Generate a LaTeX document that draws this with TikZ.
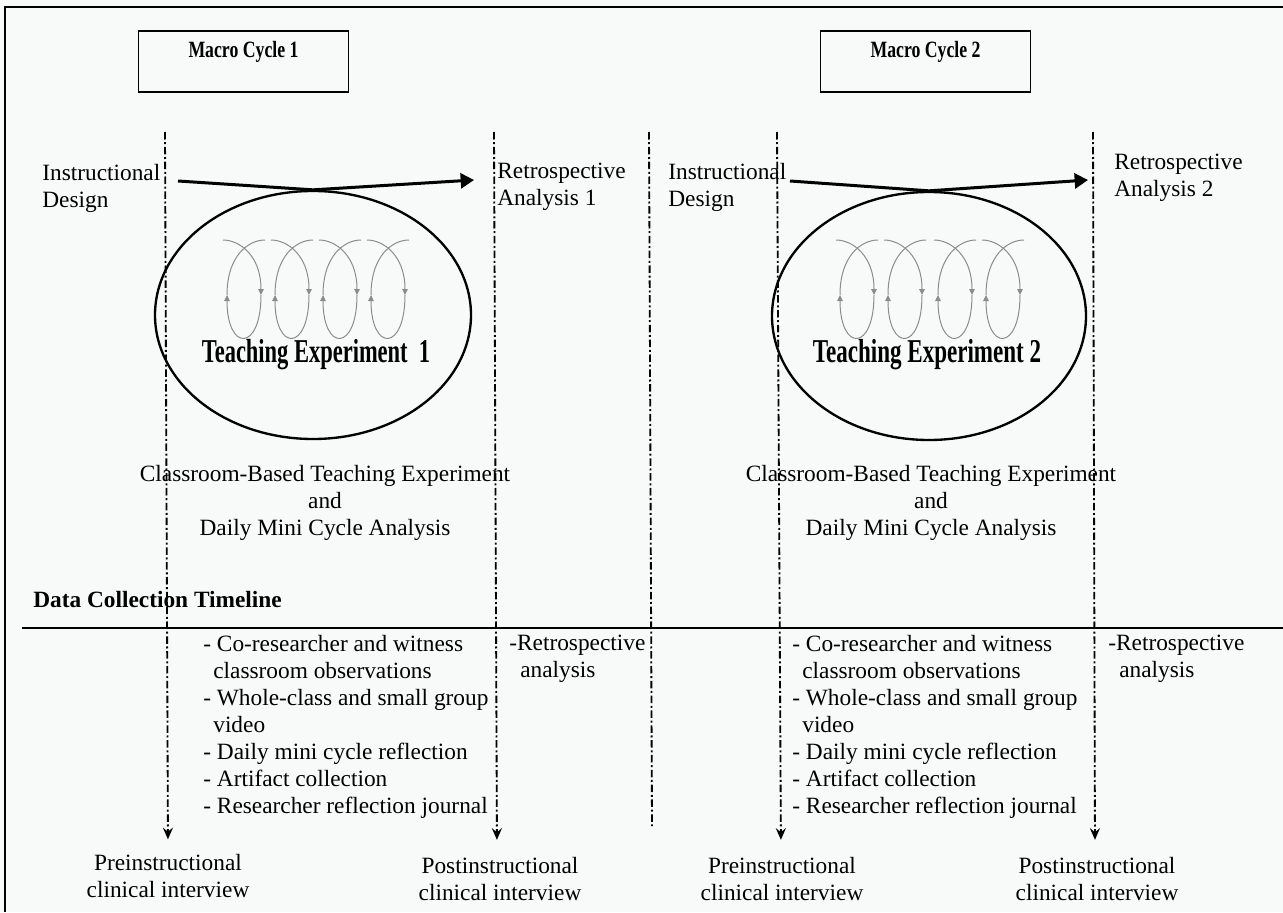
\documentclass[tikz,border=0pt]{standalone}
\usepackage{fontspec}
\setmainfont{Liberation Serif}
\usetikzlibrary{shapes.geometric,arrows.meta}
\definecolor{bgc}{RGB}{248,249,249}
\definecolor{loopc}{RGB}{140,140,140}
\newcommand\miniloop[1]{%
  \begin{scope}[shift={(#1,0)}, loopline]
    \draw[-{Triangle[length=3.6pt,width=3.4pt]}] (-21,240) .. controls (-5,240) and (17,255) .. (17,295);
    \draw[-{Triangle[length=3.6pt,width=3.4pt]}] (17,295) .. controls (17,352) and (-17,352) .. (-17,295);
    \draw (-17,295) .. controls (-17,255) and (5,240) .. (21,240);
  \end{scope}}
\begin{document}
\begin{tikzpicture}[x=0.6pt,y=-0.6pt,
  txt/.style={font=\fontsize{14}{16.2}\selectfont, inner sep=0pt, align=left},
  ctxt/.style={font=\fontsize{14}{16.2}\selectfont, inner sep=0pt, align=center},
  ttl/.style={font=\fontsize{14}{16}\selectfont\bfseries, inner sep=0pt},
  macrobox/.style={draw, line width=0.9pt, minimum width=126pt, minimum height=36.6pt, inner sep=0pt},
  timeline/.style={line width=1.1pt, dash pattern=on 4.5pt off 1.6pt on 1.2pt off 1.6pt},
  tlarrow/.style={timeline, -{Stealth[length=7pt,width=6pt,inset=2.5pt]}, shorten >=9pt},
  bigarrow/.style={line width=1.8pt, line join=miter, -{Triangle[length=8pt,width=9pt]}},
  cyc/.style={draw, ellipse, line width=1.4pt, inner sep=0pt},
  loopline/.style={draw=loopc, line width=0.6pt},
  teach/.style={inner sep=0pt, font=\fontsize{20}{22}\selectfont\bfseries},
  mtitle/.style={inner sep=0pt, font=\fontsize{14}{16}\selectfont\bfseries}
]
\fill[bgc] (0,0) rectangle (1283,912);
\useasboundingbox (0,0) rectangle (1283,912);
% frame
\draw[line width=1.1pt] (5,912) -- (5,7) -- (1283,7);

% macro boxes
\node[macrobox] (mc1) at (243.5,61.5) {};
\node[mtitle] (mc1t) at (243.5,52) {\resizebox{66pt}{\height}{Macro Cycle 1}};
\node[macrobox] (mc2) at (925.5,61.5) {};
\node[mtitle] (mc2t) at (925.5,52) {\resizebox{66pt}{\height}{Macro Cycle 2}};

% top labels
\node[txt, anchor=north west] (id1) at (42,163.5) {Instructional\\Design};
\node[txt, anchor=north west] (ra1) at (497,162.5) {Retrospective\\Analysis 1};
\node[txt, anchor=north west] (id2) at (668,162.5) {Instructional\\Design};
\node[txt, anchor=north west] (ra2) at (1114,153.5) {Retrospective\\Analysis 2};

% ellipses
\node[cyc, minimum width=189.6pt, minimum height=148.8pt] (ell1) at (313,315) {};
\node[cyc, minimum width=188.4pt, minimum height=148.8pt] (ell2) at (929,316) {};

% mini cycles
\miniloop{244}\miniloop{292}\miniloop{340}\miniloop{388}
\miniloop{857}\miniloop{905}\miniloop{955}\miniloop{1003}

% teaching experiment titles
\node[teach] (te1) at (316,355) {\resizebox{137pt}{\height}{Teaching Experiment\ \ 1}};
\node[teach] (te2) at (927,355) {\resizebox{137pt}{\height}{Teaching Experiment 2}};

% big arrows
\coordinate (a1s) at (178,181);
\coordinate (a2s) at (790,181);
\coordinate (a1e) at (474,180);
\coordinate (a2e) at (1088,180);
\draw[bigarrow] (a1s) -- (ell1.north) -- (a1e);
\draw[bigarrow] (a2s) -- (ell2.north) -- (a2e);

% classroom text
\node[ctxt, anchor=north] (cb1) at (325,464.5) {Classroom-Based Teaching Experiment\\and\\Daily Mini Cycle Analysis};
\node[ctxt, anchor=north] (cb2) at (931,464.5) {Classroom-Based Teaching Experiment\\and\\Daily Mini Cycle Analysis};

% timeline
\node[ttl, anchor=west] (dct) at (33,600) {Data Collection Timeline};
\coordinate (hl1) at (22,628);
\coordinate (hl2) at (1283,628);
\draw[line width=1.4pt] (hl1) -- (hl2);

% data lists
\node[txt, anchor=north west] (dl1) at (203,634.5) {- Co-researcher and witness\\\hspace*{6pt}classroom observations\\- Whole-class and small group\\\hspace*{6pt}video\\- Daily mini cycle reflection\\- Artifact collection\\- Researcher reflection journal};
\node[txt, anchor=north west] (rl1) at (509,634.5) {-Retrospective\\\hspace*{6.6pt}analysis};
\node[txt, anchor=north west] (dl2) at (792,634.5) {- Co-researcher and witness\\\hspace*{6pt}classroom observations\\- Whole-class and small group\\\hspace*{6pt}video\\- Daily mini cycle reflection\\- Artifact collection\\- Researcher reflection journal};
\node[txt, anchor=north west] (rl2) at (1108,634.5) {-Retrospective\\\hspace*{6.6pt}analysis};

% interview labels
\node[ctxt, anchor=north] (pre1) at (168,853.5) {Preinstructional\\clinical interview};
\node[ctxt, anchor=north] (post1) at (500,856.5) {Postinstructional\\clinical interview};
\node[ctxt, anchor=north] (pre2) at (782,856.5) {Preinstructional\\clinical interview};
\node[ctxt, anchor=north] (post2) at (1097,856.5) {Postinstructional\\clinical interview};

% vertical timelines
\coordinate (t1) at (165,132);
\coordinate (t2) at (494,132);
\coordinate (t3) at (649,132);
\coordinate (t3b) at (652,826);
\coordinate (t4) at (777,132);
\coordinate (t5) at (1093,132);
\draw[tlarrow, shorten >=8.5pt] (t1) -- (pre1.north);
\draw[tlarrow, shorten >=10pt] (t2) -- (post1.north -| 497,0);
\draw[timeline] (t3) -- (t3b);
\draw[tlarrow, shorten >=10pt] (t4) -- (pre2.north -| 781,0);
\draw[tlarrow, shorten >=10pt] (t5) -- (post2.north -| 1095,0);
\end{tikzpicture}
\end{document}
